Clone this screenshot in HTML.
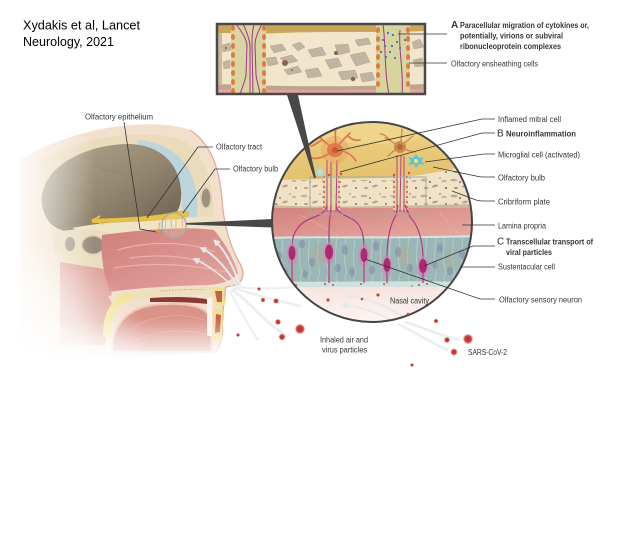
<!DOCTYPE html>
<html><head><meta charset="utf-8"><style>
html,body{margin:0;padding:0;background:#fff;}
svg{display:block}
text{font-family:"Liberation Sans",sans-serif;fill:#353535;}
</style></head><body>
<svg width="640" height="543" viewBox="0 0 640 543" xmlns="http://www.w3.org/2000/svg">
<defs>
 <clipPath id="cc"><circle cx="372" cy="222" r="100"/></clipPath>
 <clipPath id="bc"><rect x="217" y="24" width="208" height="70"/></clipPath>
 <linearGradient id="gold" x1="0" y1="0" x2="0" y2="1">
  <stop offset="0" stop-color="#ecd185"/><stop offset="0.5" stop-color="#ddb75c"/><stop offset="1" stop-color="#cfa448"/>
 </linearGradient>
 <linearGradient id="lam" x1="0" y1="0" x2="1" y2="1">
  <stop offset="0" stop-color="#d3837d"/><stop offset="1" stop-color="#e6aaa2"/>
 </linearGradient>
 <linearGradient id="cav" x1="0" y1="0" x2="0" y2="1">
  <stop offset="0" stop-color="#f7e4e0"/><stop offset="1" stop-color="#fdf7f5"/>
 </linearGradient>
 <linearGradient id="brain" x1="0" y1="0" x2="1" y2="1">
  <stop offset="0" stop-color="#b3a891"/><stop offset="0.5" stop-color="#948871"/><stop offset="1" stop-color="#6a5e4e"/>
 </linearGradient>
 <linearGradient id="nasal" x1="0" y1="0" x2="1" y2="1">
  <stop offset="0" stop-color="#cf7f7c"/><stop offset="1" stop-color="#e4a5a0"/>
 </linearGradient>
 <linearGradient id="mL" x1="0" x2="1"><stop offset="0" stop-color="#000"/><stop offset="1" stop-color="#000" stop-opacity="0"/></linearGradient>
 <linearGradient id="mB" x1="0" y1="0" x2="0" y2="1"><stop offset="0" stop-color="#000" stop-opacity="0"/><stop offset="1" stop-color="#000"/></linearGradient>
 <radialGradient id="mR" cx="0" cy="1" r="1"><stop offset="0" stop-color="#000"/><stop offset="0.6" stop-color="#000" stop-opacity="0.6"/><stop offset="1" stop-color="#000" stop-opacity="0"/></radialGradient>
 <mask id="hm" maskUnits="userSpaceOnUse" x="0" y="100" width="260" height="280">
  <rect x="0" y="100" width="260" height="280" fill="#fff"/>
  <rect x="0" y="100" width="95" height="280" fill="url(#mL)"/>
  <rect x="0" y="318" width="260" height="42" fill="url(#mB)"/>
  <rect x="0" y="360" width="260" height="20" fill="#000"/>
  <rect x="0" y="240" width="150" height="120" fill="url(#mR)"/>
 </mask>
 <radialGradient id="vir"><stop offset="0" stop-color="#b3302a"/><stop offset="0.6" stop-color="#c9463a"/><stop offset="1" stop-color="#e08070" stop-opacity="0"/></radialGradient>
 <pattern id="bone" width="30" height="16" patternUnits="userSpaceOnUse">
  <ellipse cx="4" cy="4" rx="3.5" ry="1.2" fill="#bba893"/>
  <ellipse cx="15" cy="10" rx="3" ry="1.1" fill="#b29a84" transform="rotate(-15 15 10)"/>
  <ellipse cx="24" cy="5" rx="2.5" ry="1" fill="#c2b19e"/>
  <circle cx="10" cy="6" r="0.9" fill="#7d5642"/>
  <circle cx="26" cy="12" r="1" fill="#8a6048"/>
  <ellipse cx="6" cy="12" rx="2" ry="0.9" fill="#a38a72"/>
  <circle cx="20" cy="2" r="0.7" fill="#93705a"/>
 </pattern>
 <pattern id="epi" width="9" height="46" patternUnits="userSpaceOnUse">
  <path d="M3,0 C5,11 1,23 3,34 S5,44 3,46" stroke="#b6cecc" stroke-width="0.8" fill="none"/>
 </pattern>
 <marker id="ah" markerUnits="userSpaceOnUse" markerWidth="7" markerHeight="7" refX="3" refY="3.5" orient="auto">
  <path d="M0,0 L7,3.5 L0,7 Z" fill="#e3ebea"/>
 </marker>
</defs>

<rect width="640" height="543" fill="#fff"/>

<!-- ===== HEAD ===== -->
<g mask="url(#hm)">
 <path d="M20,160 C70,128 150,116 190,130 C212,144 220,172 222,200 C224,225 230,245 238,260 C243,268 245,276 240,282 C236,286 230,286 226,287 C224,292 226,298 224,304 C222,310 224,318 222,324 C224,332 222,342 216,352 L20,365 Z" fill="#f2dfcc"/>
 <path d="M190,130 C212,144 220,172 222,200 C224,225 230,245 238,260 C243,268 245,276 240,282 C236,286 230,286 226,287 C224,292 226,298 224,304 C222,310 224,318 222,324 C224,332 222,342 216,352" fill="none" stroke="#dcae9c" stroke-width="1.3"/>
 <path d="M40,160 C85,135 150,128 182,140 C202,150 210,175 213,200 C214,215 214,225 214,232 L120,240 L55,255 Z" fill="#eadbbd"/>
 <path d="M138,140 C170,143 190,160 196,190 C198,203 198,212 196,218 L182,218 C185,190 176,160 138,148 Z" fill="#bcd5dd"/>
 <path d="M42,205 C38,170 80,146 125,144 C158,143 179,162 181,190 C182,205 178,214 170,217 C145,219 110,221 85,228 C68,236 46,230 42,205 Z" fill="url(#brain)"/>
 <path d="M95,165 C110,175 120,168 135,178 M120,195 C135,188 150,200 165,192 M80,190 C95,200 100,210 110,212" stroke="#857a66" stroke-width="0.6" fill="none" opacity="0.6"/>
 <ellipse cx="206" cy="198" rx="5" ry="10" fill="#9c9080" stroke="#d9ccb2" stroke-width="1.5"/>
 <path d="M72,228 C110,221 160,217 215,217 L216,231 C160,230 112,233 95,237 Z" fill="#efe3c6"/>
 <path d="M58,232 C80,227 100,229 112,234 L110,272 C95,274 75,270 62,262 Z" fill="#eadcbf"/>
 <ellipse cx="93" cy="245" rx="11" ry="9" fill="#968b7b" stroke="#d3c5aa" stroke-width="1.2"/>
 <ellipse cx="70" cy="244" rx="5" ry="7" fill="#a9a08f"/>
 <path d="M60,262 L110,270 L112,300 L105,345 L60,345 Z" fill="#dfa59d"/>
 <path d="M102,235 C140,230 185,226 214,230 C226,244 234,260 238,273 C232,281 222,284 208,285 C170,286 135,288 110,292 C104,275 100,255 102,235 Z" fill="url(#nasal)"/>
 <path d="M118,250 C150,240 190,242 215,252 M114,268 C150,262 190,264 226,272 M130,258 C160,254 180,256 205,262" stroke="#eab3ac" stroke-width="1.2" fill="none"/>
 <path d="M108,296 C140,289 190,286 222,287 L223,294 C190,293 140,296 112,303 Z" fill="#eee0bd"/>
 <path d="M160,291 C175,290 190,289 205,290" stroke="#b9a68c" stroke-width="0.8" stroke-dasharray="1.5 1.5" fill="none"/>
 <path d="M103,338 C103,312 110,298 130,294 L132,299 C117,303 111,313 111,338 Z" fill="#f2e596"/>
 <path d="M150,298 C175,296 200,297 210,300 L208,304 C190,302 170,302 150,302 Z" fill="#8e3a34"/>
 <path d="M112,352 C112,322 130,305 165,304 C190,303 205,307 210,317 L212,352 Z" fill="#d99389" stroke="#efc4bb" stroke-width="2"/>
 <path d="M130,330 C150,315 180,312 205,320 M125,345 C150,330 185,328 208,335" stroke="#e3aaa0" stroke-width="0.8" fill="none"/>
 <path d="M212,288 L224,288 L225,305 L216,306 Z" fill="#f1e28e"/>
 <path d="M215,291 L222,291 L222,302 L217,302 Z" fill="#c8604c"/>
 <path d="M214,308 L223,310 L222,340 L212,342 Z" fill="#f1e28e"/>
 <path d="M216,314 L221,315 L220,332 L215,333 Z" fill="#c8604c"/>
 <path d="M207,298 L212,298 L212,336 L207,336 Z" fill="#f7f5f2"/>
 <!-- olfactory tract -->
 <path d="M92,219 C120,218 150,217 170,213 C178,211 186,210 189,213 C189,218 181,219 170,219 C150,221 120,222 92,223 Z" fill="#e6c14a" stroke="#d2a93a" stroke-width="0.5"/>
 <path d="M92,221 L100,216 M95,221 L103,224" stroke="#e6c14a" stroke-width="2"/>
 <path d="M166,219 L165,236 M171,219 L172,238 M176,219 L176,234 M182,218 L183,236 M160,222 L158,232" stroke="#dcae4a" stroke-width="0.9"/>
 <!-- airflow in nose -->
 <path d="M238,287 C228,270 215,255 203,249" stroke="#e3ebea" stroke-width="2" fill="none" marker-end="url(#ah)"/>
 <path d="M240,286 C234,268 225,250 216,242" stroke="#e3ebea" stroke-width="2" fill="none" marker-end="url(#ah)"/>
 <path d="M236,290 C225,278 210,266 196,260" stroke="#e3ebea" stroke-width="1.6" fill="none" marker-end="url(#ah)"/>
</g>
<!-- outside airflow streaks -->
<g stroke="#e9eeee" fill="none" stroke-linecap="round" opacity="0.9">
 <path d="M232,290 C248,300 260,318 286,336" stroke-width="3"/>
 <path d="M234,288 C258,296 275,300 300,306" stroke-width="2.5"/>
 <path d="M236,287 C262,290 285,288 308,286" stroke-width="2"/>
 <path d="M230,292 C240,310 248,325 258,340" stroke-width="2"/>
</g>

<!-- small circle & pointer -->
<circle cx="174" cy="225" r="12" fill="#ffffff" fill-opacity="0.12" stroke="#9fb0b2" stroke-width="1.3"/>
<polygon points="186,223 273,219 273,227.5 186,224.6" fill="#484848"/>

<!-- ===== BIG CIRCLE ===== -->
<g clip-path="url(#cc)">
 <rect x="270" y="120" width="205" height="205" fill="url(#gold)"/>
 <ellipse cx="370" cy="128" rx="60" ry="16" fill="#f1da93" opacity="0.6"/>
 <path d="M270,180 L380,178 C420,177 450,170 475,163 L475,210 L270,210 Z" fill="#efe2c6"/>
 <rect x="270" y="180" width="205" height="28" fill="url(#bone)" opacity="0.9"/>
 <path d="M400,176 C430,175 450,168 475,162 L475,200 L400,200 Z" fill="url(#bone)" opacity="0.9"/>
 <path d="M270,205 C320,208 380,206 475,204 L475,210 L270,210 Z" fill="#cbb79d"/>
 <rect x="270" y="208" width="205" height="30" fill="url(#lam)"/>
 <path d="M300,215 C320,225 330,230 340,237 M440,212 C445,222 455,228 462,237" stroke="#e6b0a8" stroke-width="0.6" fill="none"/>
 <rect x="270" y="238" width="205" height="44" fill="#9ab7b6"/>
 <rect x="270" y="238" width="205" height="44" fill="url(#epi)"/>
 <g fill="#8b93ad" opacity="0.75">
  <ellipse cx="279" cy="256" rx="3" ry="5"/><ellipse cx="302" cy="244" rx="3" ry="4.5"/>
  <ellipse cx="312" cy="262" rx="3" ry="5"/><ellipse cx="345" cy="250" rx="3" ry="5"/>
  <ellipse cx="352" cy="272" rx="3" ry="4.5"/><ellipse cx="376" cy="246" rx="3" ry="5"/>
  <ellipse cx="398" cy="252" rx="3" ry="5"/><ellipse cx="410" cy="268" rx="3" ry="4.5"/>
  <ellipse cx="440" cy="248" rx="3" ry="5"/><ellipse cx="450" cy="271" rx="3" ry="4.5"/>
  <ellipse cx="462" cy="254" rx="3" ry="5"/><ellipse cx="305" cy="274" rx="2.5" ry="4"/>
  <ellipse cx="338" cy="268" rx="3" ry="4.5"/><ellipse cx="285" cy="272" rx="2.5" ry="4"/>
  <ellipse cx="372" cy="270" rx="3" ry="4.5"/><ellipse cx="435" cy="265" rx="2.5" ry="4"/>
 </g>
 <g fill="#bba68c" opacity="0.35">
  <ellipse cx="318" cy="255" rx="5" ry="12"/><ellipse cx="405" cy="256" rx="5" ry="12"/><ellipse cx="450" cy="258" rx="4" ry="10"/>
 </g>
 <path d="M270,238 C320,236 380,239 475,236" stroke="#d3e5e2" stroke-width="2" fill="none"/>
 <path d="M270,281 C320,283 380,280 475,282 L475,288 C380,286 320,289 270,287 Z" fill="#cfe1dd"/>
 <rect x="270" y="287" width="205" height="40" fill="url(#cav)"/>
 <!-- bundles -->
 <rect x="323" y="176" width="17" height="34" fill="#dcd9a2" opacity="0.85"/>
 <rect x="393" y="176" width="15" height="34" fill="#dcd9a2" opacity="0.85"/>
 <g stroke="#e05a3c" stroke-width="1.6" stroke-dasharray="2 3">
  <line x1="324" y1="176" x2="324" y2="212"/><line x1="339" y1="176" x2="339" y2="212"/>
  <line x1="394" y1="176" x2="394" y2="212"/><line x1="407" y1="176" x2="407" y2="212"/>
 </g>
 <!-- axons up through cribriform -->
 <g stroke="#b6407f" stroke-width="1" fill="none">
  <path d="M327,212 L327,160"/><path d="M331,212 L331,162"/><path d="M336,212 L337,160"/>
  <path d="M397,212 L397,155"/><path d="M400,212 L401,155"/><path d="M404,212 L404,156"/>
 </g>
 <!-- neurons -->
 <g stroke="#ae3a80" stroke-width="1.2" fill="none">
  <path d="M292,246 C292,232 300,222 312,218 C320,215 325,213 327,205"/>
  <path d="M329,244 L329,230 C329,220 331,214 331,205"/>
  <path d="M364,248 C364,232 360,222 350,218 C342,214 337,212 336,205"/>
  <path d="M387,258 C387,240 390,225 396,215 L398,205"/>
  <path d="M423,259 C423,240 418,225 410,217 L405,205"/>
 </g>
 <g fill="#dc7fb4" opacity="0.55">
  <ellipse cx="292" cy="254" rx="5.5" ry="11"/><ellipse cx="329" cy="253" rx="6" ry="11"/>
  <ellipse cx="364" cy="256" rx="5.5" ry="11"/><ellipse cx="387" cy="266" rx="5.5" ry="11"/>
  <ellipse cx="423" cy="267" rx="6" ry="11"/>
 </g>
 <g stroke="#c04a90" stroke-width="1.5">
  <line x1="292" y1="260" x2="292" y2="283"/><line x1="329" y1="259" x2="329" y2="283"/>
  <line x1="364" y1="262" x2="364" y2="283"/><line x1="387" y1="272" x2="387" y2="283"/>
  <line x1="423" y1="273" x2="423" y2="283"/>
 </g>
 <g fill="#ac2a74">
  <ellipse cx="292" cy="253" rx="3.5" ry="7"/><ellipse cx="329" cy="252" rx="4" ry="7.5"/>
  <ellipse cx="364" cy="255" rx="3.5" ry="7"/><ellipse cx="387" cy="265" rx="3.5" ry="7"/>
  <ellipse cx="423" cy="266" rx="4" ry="7"/>
 </g>
 <g fill="#d24a38">
  <circle cx="288" cy="284" r="1"/><circle cx="296" cy="285" r="1"/><circle cx="325" cy="284" r="1"/>
  <circle cx="333" cy="285" r="1"/><circle cx="361" cy="284" r="1"/><circle cx="384" cy="284" r="1"/>
  <circle cx="419" cy="285" r="1"/><circle cx="427" cy="284" r="1"/><circle cx="412" cy="286" r="0.8"/>
  <circle cx="329" cy="175" r="1.2"/><circle cx="341" cy="174" r="1.2"/><circle cx="394" cy="175" r="1.2"/><circle cx="409" cy="173" r="1.2"/>
 </g>
 <!-- mitral cells -->
 <circle cx="335" cy="150" r="14" fill="#e89463" opacity="0.35"/>
 <g stroke="#de7444" stroke-width="1.6" fill="none" stroke-linecap="round">
  <path d="M335,150 C328,145 322,140 316,133"/><path d="M335,150 C340,142 345,138 350,133"/>
  <path d="M335,150 C345,150 352,155 356,161"/><path d="M335,150 C326,155 320,160 312,158"/>
  <path d="M335,150 C337,142 334,135 336,127"/><path d="M322,140 C318,142 314,146 311,146"/>
  <path d="M348,136 C352,140 356,141 360,140"/>
 </g>
 <ellipse cx="335" cy="150" rx="8" ry="7" fill="#e07a48"/>
 <circle cx="335" cy="150" r="3" fill="#c75a32"/>
 <g stroke="#cf8a4c" stroke-width="1.3" fill="none" stroke-linecap="round">
  <path d="M400,147 C394,143 390,140 385,138"/><path d="M400,147 C394,150 391,153 388,156"/>
  <path d="M400,147 C406,142 409,139 413,136"/><path d="M400,147 C407,150 411,152 415,152"/>
  <path d="M400,147 C401,140 402,135 402,129"/><path d="M390,140 C386,136 384,134 380,134"/>
 </g>
 <path d="M398,142 C390,135 378,128 362,122" stroke="#f0d894" stroke-width="1.2" fill="none"/>
 <circle cx="400" cy="147" r="6" fill="#cf8a4c"/>
 <circle cx="400" cy="147" r="3" fill="#b06c3a"/>
 <!-- microglia -->
 <g fill="#5fc2da">
  <path d="M416,154 L419,158 L424,157 L421,161 L425,165 L419,164 L416,168 L414,164 L408,165 L411,161 L408,157 L413,158 Z"/>
 </g>
 <circle cx="416" cy="161" r="2" fill="#f2e46e"/>
 <circle cx="320" cy="172" r="4" fill="#a8dbe3"/>
 <circle cx="320" cy="172" r="1.5" fill="#f2e46e"/>
 <!-- gray inset rectangle -->
 <rect x="310" y="177" width="116" height="37" fill="none" stroke="#a3aaa8" stroke-width="1"/>
 <!-- internal arrows -->
 <path d="M420,330 C400,312 375,300 348,295" stroke="#e3ebea" stroke-width="2.2" fill="none" marker-end="url(#ah)"/>
 <path d="M410,335 C392,318 370,308 345,305" stroke="#e3ebea" stroke-width="1.8" fill="none" marker-end="url(#ah)"/>
</g>
<circle cx="372" cy="222" r="100" fill="none" stroke="#454545" stroke-width="2"/>
<path d="M405,322 C425,328 440,336 460,340 M398,324 C420,335 435,345 448,350" stroke="#e9eeee" stroke-width="2.5" fill="none"/>

<!-- ===== TOP BOX ===== -->
<g clip-path="url(#bc)">
 <rect x="217" y="24" width="208" height="70" fill="#f1e5cb"/>
 <path d="M217,24 L425,24 L425,31 C380,33 330,31 280,33 C260,34 240,33 217,33 Z" fill="#c9a65a"/>
 <path d="M217,84 C270,86 330,88 425,84 L425,94 L217,94 Z" fill="#bca58b"/>
 <path d="M217,89 C280,91 350,90 425,89 L425,94 L217,94 Z" fill="#e3a3a1"/>
 <rect x="217" y="33" width="5" height="52" fill="#c8b8a2"/>
 <g fill="#c2b4a3" stroke="#a99a88" stroke-width="0.4">
  <polygon points="222,45 230,43 231,50 223,52"/><polygon points="223,62 230,60 230,68 224,69"/>
  <polygon points="270,46 282,44 286,50 274,53"/><polygon points="280,58 292,55 298,61 286,64"/>
  <polygon points="292,45 300,42 305,47 298,51"/><polygon points="284,70 298,66 302,72 288,75"/>
  <polygon points="308,50 322,47 326,55 312,57"/><polygon points="325,60 338,58 342,66 330,69"/>
  <polygon points="335,45 348,44 350,52 338,55"/><polygon points="350,55 365,52 370,62 356,66"/>
  <polygon points="338,72 355,70 358,78 342,80"/><polygon points="360,74 372,72 375,80 362,82"/>
  <polygon points="305,70 318,68 322,76 308,78"/><polygon points="266,58 276,57 278,64 268,66"/>
  <polygon points="412,42 420,39 424,47 414,49"/><polygon points="355,40 368,38 371,44 358,46"/>
  <polygon points="413,60 422,58 424,66 415,67"/>
 </g>
 <g fill="#8a6448">
  <circle cx="285" cy="63" r="3"/><circle cx="336" cy="53" r="2"/><circle cx="353" cy="79" r="2.2"/>
  <circle cx="292" cy="70" r="1"/><circle cx="226" cy="48" r="1"/>
 </g>
 <rect x="231" y="24" width="35" height="70" fill="#d9d5a3"/>
 <rect x="376" y="24" width="34" height="70" fill="#d7d4a0"/>
 <g fill="#e07a42">
  <ellipse cx="233" cy="28" rx="2" ry="3"/><ellipse cx="233" cy="37" rx="2" ry="3"/><ellipse cx="233" cy="46" rx="2" ry="3"/>
  <ellipse cx="233" cy="55" rx="2" ry="3"/><ellipse cx="233" cy="64" rx="2" ry="3"/><ellipse cx="233" cy="73" rx="2" ry="3"/>
  <ellipse cx="233" cy="82" rx="2" ry="3"/><ellipse cx="233" cy="91" rx="2" ry="3"/>
  <ellipse cx="264" cy="28" rx="2" ry="3"/><ellipse cx="264" cy="37" rx="2" ry="3"/><ellipse cx="264" cy="46" rx="2" ry="3"/>
  <ellipse cx="264" cy="55" rx="2" ry="3"/><ellipse cx="264" cy="64" rx="2" ry="3"/><ellipse cx="264" cy="73" rx="2" ry="3"/>
  <ellipse cx="264" cy="82" rx="2" ry="3"/><ellipse cx="264" cy="91" rx="2" ry="3"/>
  <ellipse cx="378" cy="30" rx="2" ry="3"/><ellipse cx="378" cy="39" rx="2" ry="3"/><ellipse cx="378" cy="48" rx="2" ry="3"/>
  <ellipse cx="378" cy="57" rx="2" ry="3"/><ellipse cx="378" cy="66" rx="2" ry="3"/><ellipse cx="378" cy="75" rx="2" ry="3"/>
  <ellipse cx="378" cy="84" rx="2" ry="3"/>
  <ellipse cx="408" cy="30" rx="2" ry="3"/><ellipse cx="408" cy="39" rx="2" ry="3"/><ellipse cx="408" cy="48" rx="2" ry="3"/>
  <ellipse cx="408" cy="57" rx="2" ry="3"/><ellipse cx="408" cy="66" rx="2" ry="3"/><ellipse cx="408" cy="75" rx="2" ry="3"/>
  <ellipse cx="408" cy="84" rx="2" ry="3"/>
 </g>
 <g stroke="#a2348a" stroke-width="1" fill="none">
  <path d="M236,24 C242,32 246,38 247,45 L246,75 C245,82 242,88 240,94"/>
  <path d="M243,24 C247,32 249,38 250,45 L250,94"/>
  <path d="M254,24 C252,32 252,38 252,45 L253,94"/>
  <path d="M262,24 C258,32 255,38 255,45 L256,75 C257,82 259,88 260,94"/>
  <path d="M383,24 C386,45 384,70 389,94"/>
  <path d="M400,30 C398,50 404,70 402,94"/>
 </g>
 <g fill="#3a76c6">
  <circle cx="388" cy="33" r="1.1"/><circle cx="393" cy="35" r="1.1"/><circle cx="383" cy="40" r="1.1"/>
  <circle cx="397" cy="42" r="1.1"/><circle cx="381" cy="52" r="1.1"/><circle cx="390" cy="52" r="1.1"/>
  <circle cx="400" cy="48" r="1.1"/><circle cx="386" cy="57" r="1.1"/><circle cx="392" cy="46" r="1.1"/>
  <circle cx="405" cy="40" r="1.1"/><circle cx="395" cy="58" r="1.1"/><circle cx="385" cy="46" r="1.1"/>
 </g>
</g>
<rect x="217" y="24" width="208" height="70" fill="none" stroke="#4a4a4a" stroke-width="2.5"/>
<polygon points="287,95 298,95 316,178 314,178" fill="#484848"/>

<!-- particles -->
<g fill="url(#vir)">
 <circle cx="259" cy="289" r="2"/><circle cx="276" cy="301" r="3"/><circle cx="263" cy="300" r="2.5"/>
 <circle cx="278" cy="322" r="3.2"/><circle cx="300" cy="329" r="5.5"/><circle cx="282" cy="337" r="3.6"/>
 <circle cx="238" cy="335" r="2"/><circle cx="328" cy="300" r="2"/><circle cx="362" cy="299" r="1.6"/>
 <circle cx="378" cy="295" r="2"/><circle cx="408" cy="314" r="1.6"/><circle cx="436" cy="321" r="2.5"/>
 <circle cx="447" cy="340" r="3.2"/><circle cx="468" cy="339" r="5.5"/><circle cx="454" cy="352" r="3.8"/>
 <circle cx="412" cy="365" r="2"/>
</g>

<!-- leader lines -->
<g stroke="#333" stroke-width="0.8" fill="none">
 <path d="M398,34 L447,34"/>
 <path d="M409,63 L447,63"/>
 <path d="M124,122 L140,229 L156,232"/>
 <path d="M147,218 L198,147 L213,147"/>
 <path d="M183,213 L215,169 L230,169"/>
 <path d="M337,151 L482,119 L495,119"/>
 <path d="M340,172 L482,133 L495,133"/>
 <path d="M425,162 L484,154 L495,154"/>
 <path d="M433,167 L476,176 Q479,177 483,177 L495,177"/>
 <path d="M452,191 L476,200 Q479,201 483,201 L495,201"/>
 <path d="M462,225 L495,225"/>
 <path d="M424,266 L473,246 L495,246"/>
 <path d="M460,267 L495,267"/>
 <path d="M365,259 L480,299 L495,299"/>
</g>

<!-- text -->
<text x="23" y="29.5" font-size="12.7" style="fill:#000" textLength="117" lengthAdjust="spacingAndGlyphs">Xydakis et al, Lancet</text>
<text x="23" y="46" font-size="12.7" style="fill:#000" textLength="91" lengthAdjust="spacingAndGlyphs">Neurology, 2021</text>
<g font-size="8">
 <text x="85" y="119.5" textLength="68" lengthAdjust="spacingAndGlyphs">Olfactory epithelium</text>
 <text x="216" y="149.5" textLength="46" lengthAdjust="spacingAndGlyphs">Olfactory tract</text>
 <text x="233" y="171.5" textLength="45" lengthAdjust="spacingAndGlyphs">Olfactory bulb</text>
 <text x="451" y="28" font-size="10" font-weight="bold">A</text>
 <text x="460" y="28" font-weight="bold" textLength="129" lengthAdjust="spacingAndGlyphs">Paracellular migration of cytokines or,</text>
 <text x="460" y="38.5" font-weight="bold" textLength="103" lengthAdjust="spacingAndGlyphs">potentially, virions or subviral</text>
 <text x="460" y="49" font-weight="bold" textLength="101" lengthAdjust="spacingAndGlyphs">ribonucleoprotein complexes</text>
 <text x="451" y="66.5" textLength="87" lengthAdjust="spacingAndGlyphs">Olfactory ensheathing cells</text>
 <text x="498" y="122" textLength="63" lengthAdjust="spacingAndGlyphs">Inflamed mitral cell</text>
 <text x="497" y="136.5" font-size="10">B</text>
 <text x="506" y="136.5" font-weight="bold" textLength="70" lengthAdjust="spacingAndGlyphs">Neuroinflammation</text>
 <text x="498" y="157.5" textLength="82" lengthAdjust="spacingAndGlyphs">Microglial cell (activated)</text>
 <text x="498" y="180.5" textLength="47" lengthAdjust="spacingAndGlyphs">Olfactory bulb</text>
 <text x="498" y="204.5" textLength="52" lengthAdjust="spacingAndGlyphs">Cribriform plate</text>
 <text x="498" y="228.5" textLength="48" lengthAdjust="spacingAndGlyphs">Lamina propria</text>
 <text x="497" y="244.5" font-size="10">C</text>
 <text x="506" y="244.5" font-weight="bold" textLength="87" lengthAdjust="spacingAndGlyphs">Transcellular transport of</text>
 <text x="506" y="255" font-weight="bold" textLength="46" lengthAdjust="spacingAndGlyphs">viral particles</text>
 <text x="498" y="269.5" textLength="57" lengthAdjust="spacingAndGlyphs">Sustentacular cell</text>
 <text x="499" y="302.5" textLength="83" lengthAdjust="spacingAndGlyphs">Olfactory sensory neuron</text>
 <text x="390" y="303.5" textLength="39" lengthAdjust="spacingAndGlyphs">Nasal cavity</text>
 <text x="320" y="342.5" textLength="48" lengthAdjust="spacingAndGlyphs">Inhaled air and</text>
 <text x="322" y="352.5" textLength="45" lengthAdjust="spacingAndGlyphs">virus particles</text>
 <text x="468" y="355" textLength="39" lengthAdjust="spacingAndGlyphs">SARS-CoV-2</text>
</g>
</svg>
</body></html>
